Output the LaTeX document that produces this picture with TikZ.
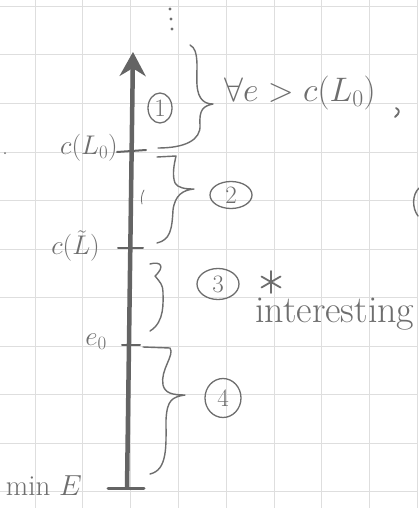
\RequirePackage{fix-cm}
\documentclass[tikz,border=0pt]{standalone}
\usetikzlibrary{arrows.meta,shapes.geometric}
\definecolor{pencil}{RGB}{110,110,110}
\definecolor{axisgray}{RGB}{100,100,100}
\definecolor{gridgray}{RGB}{222,222,222}
\tikzset{
  pen/.style={draw=pencil, line width=1.4pt, line cap=round, line join=round},
  lbl/.style={text=pencil, inner sep=0pt, font=\fontsize{27}{30}\selectfont},
  circnum/.style={draw=pencil, line width=1.3pt, ellipse, inner sep=0pt, text=pencil, font=\fontsize{25}{27}\selectfont},
  tick/.style={draw=axisgray, line width=2pt, line cap=round},
}
\begin{document}
\begin{tikzpicture}[x=1pt,y=-1pt]
\useasboundingbox (0,0) rectangle (418,508);
\fill[white] (0,0) rectangle (418,508);
% grid
\foreach \i in {0,...,8} \draw[gridgray, line width=1pt] ({35+47.8*\i},0) -- ({35+47.8*\i},508);
\foreach \j in {0,...,10} \draw[gridgray, line width=1pt] (0,{6.5+48.5*\j}) -- (418,{6.5+48.5*\j});
% axis
\coordinate (bot) at (127,489);
\coordinate (top) at (133,52);
\draw[axisgray, line width=4.5pt, -{Stealth[length=24pt,width=26pt]}] (bot) -- (top);
% ticks
\coordinate (t1a) at (117,152); \coordinate (t1b) at (146,150);
\coordinate (t2a) at (118,248); \coordinate (t2b) at (143,248);
\coordinate (t3a) at (122,345); \coordinate (t3b) at (140,345);
\coordinate (t4a) at (108,488); \coordinate (t4b) at (144,488);
\draw[tick] (t1a) -- (t1b);
\draw[tick] (t2a) -- (t2b);
\draw[tick] (t3a) -- (t3b);
\draw[tick, line width=3pt] (t4a) -- (t4b);
% tick labels
\node[lbl, anchor=east] (lc0) at (118,148) {$c(L_0)$};
\node[lbl, anchor=east] (lct) at (100,246) {$c(\tilde{L})$};
\node[lbl, anchor=east] (le0) at (107,342) {$e_0$};
\node[lbl, anchor=east, font=\fontsize{29}{31}\selectfont] (lmin) at (82,486) {min $E$};
% dots
\fill[pencil] (170,9) circle (1.6pt) (171,19) circle (1.6pt) (172,29) circle (1.6pt);
\fill[pencil] (5,153) circle (1pt);
% braces
\draw[pen] (190,45) .. controls (200,50) and (196,70) .. (197,85)
  .. controls (198,100) and (205,104) .. (213,104)
  .. controls (203,106) and (199,110) .. (200,125)
  .. controls (201,140) and (185,148) .. (158,148);
\draw[pen] (157,157) -- (176,156) .. controls (174,165) and (172,175) .. (175,183)
  .. controls (178,188) and (185,189) .. (194,189)
  .. controls (183,190) and (175,195) .. (173,210)
  .. controls (172,230) and (170,240) .. (157,243);
\draw[pen] (150,264) .. controls (160,261) and (166,266) .. (155,276)
  .. controls (160,282) and (163,285) .. (163,292)
  .. controls (163,302) and (165,322) .. (150,331);
\draw[pen] (143,347) -- (170,348) .. controls (175,355) and (160,370) .. (163,385)
  .. controls (165,393) and (172,395) .. (185,395)
  .. controls (172,397) and (167,400) .. (166,420)
  .. controls (166,445) and (168,470) .. (150,474);
\draw[pen, line width=0.8pt] (144,190) .. controls (141,195) and (141,200) .. (142,204);
% circled numbers
\node[circnum, minimum width=24pt, minimum height=30pt] (n1) at (160,108) {1};
\node[circnum, minimum width=42pt, minimum height=27pt] (n2) at (231,195) {2};
\node[circnum, minimum width=42pt, minimum height=31pt] (n3) at (218,284) {3};
\node[circnum, minimum width=36pt, minimum height=39pt] (n4) at (223,398) {4};
% texts
\node[lbl, anchor=west, font=\fontsize{34}{36}\selectfont] (cond) at (224,93) {$\forall e > c(L_0)$};
\draw[pen, line width=1.8pt] (396,108) .. controls (400,110) and (400,113) .. (395,117);
\coordinate (star) at (271,282);
\foreach \a in {90,30,-30} \draw[pen, line width=1.8pt] (star) ++(\a:11) -- ++(\a+180:22);
\node[lbl, anchor=west, font=\fontsize{38}{40}\selectfont] (interesting) at (255,314) {interesting};
% partial bracket at right edge
\draw[pen] (419,188) .. controls (412,195) and (412,208) .. (418,216);
\end{tikzpicture}
\end{document}
